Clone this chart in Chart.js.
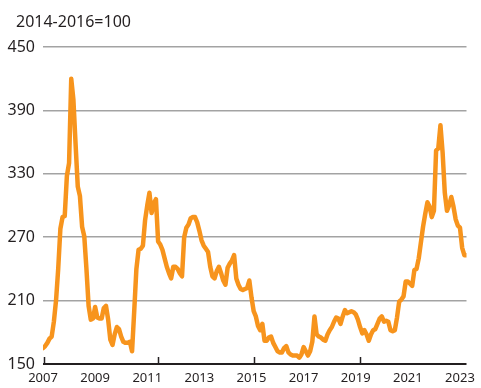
<!DOCTYPE html>
<html>
<head>
<meta charset="utf-8">
<script src="https://cdn.jsdelivr.net/npm/chart.js@4"></script>
<style>
  html, body { margin: 0; padding: 0; background: #fff; }
  #wrap { width: 481px; height: 388px; }
</style>
</head>
<body>
<div id="wrap"><canvas id="chart"></canvas></div>
<script>
// index 2014-2016=100, monthly from Jan 2007 to Apr 2023
const startYear = 2007;
const values = [
  165, 167, 170, 174, 176, 190, 210, 240, 278, 289, 290, 328, // 2007
  340, 420, 400, 358, 318, 309, 280, 271, 240, 205, 192, 193, // 2008
  204, 194, 193, 193, 203, 205, 192, 173, 168, 178, 185, 183, // 2009
  176, 171, 170, 170, 171, 162, 200, 240, 258, 259, 262, 286, // 2010
  300, 312, 293, 302, 306, 266, 263, 258, 250, 242, 236, 231, // 2011
  242, 242, 240, 236, 233, 270, 279, 282, 288, 289, 289, 284, // 2012
  276, 267, 262, 259, 256, 242, 233, 231, 238, 242, 236, 229, // 2013
  225, 241, 245, 248, 253, 231, 225, 221, 220, 221, 222, 229, // 2014
  213, 200, 195, 186, 182, 188, 172, 172, 175, 176, 170, 166, // 2015
  162, 161, 161, 165, 167, 161, 159, 158, 158, 158, 156, 159, // 2016
  166, 162, 158, 162, 171, 195, 178, 176, 175, 173, 172, 178, // 2017
  182, 185, 190, 194, 193, 188, 195, 201, 198, 199, 200, 199, // 2018
  197, 192, 185, 179, 182, 178, 172, 178, 182, 183, 188, 193, // 2019
  195, 190, 191, 190, 182, 181, 182, 194, 209, 211, 214, 228, // 2020
  228, 226, 224, 239, 240, 250, 265, 280, 292, 303, 299, 289, // 2021
  295, 352, 354, 376, 350, 312, 295, 300, 308, 299, 287, 281, // 2022
  279, 260, 253, 253                                          // 2023
];
const yearLabels = [2007, 2009, 2011, 2013, 2015, 2017, 2019, 2021, 2023];
const yTicks = [150, 210, 270, 330, 390, 450];
// small tick marks on the base line (months from Jan 2007)
const axisMarks = [0.5, 53, 97, 146];
const unitText = '2014-2016=100';

const ink = '#231f20';
const font = 'Noto Sans';

// unit note top left, plus the little marks on the base line
const extrasPlugin = {
    id: 'extras',
    afterDraw(chart) {
        const ctx = chart.ctx;
        const xs = chart.scales.x;
        const bottom = chart.chartArea.bottom;
        ctx.save();
        ctx.fillStyle = ink;
        ctx.font = '16px "' + font + '"';
        ctx.textBaseline = 'middle';
        ctx.textAlign = 'left';
        ctx.fillText(unitText, 16, 22);

        ctx.strokeStyle = ink;
        ctx.lineWidth = 1.5;
        axisMarks.forEach(v => {
            const px = Math.round(xs.getPixelForValue(v)) + 0.5;
            ctx.beginPath();
            ctx.moveTo(px, bottom);
            ctx.lineTo(px, bottom - 7);
            ctx.stroke();
        });
        ctx.restore();
    }
};

new Chart(document.getElementById('chart'), {
    type: 'line',
    data: {
        datasets: [{
            data: values.map((v, i) => ({ x: i, y: v })),
            borderColor: '#f7941d',
            borderWidth: 4.5,
            pointRadius: 0,
            tension: 0,
            borderJoinStyle: 'round',
            borderCapStyle: 'round'
        }]
    },
    options: {
        responsive: true,
        maintainAspectRatio: false,
        animation: false,
        devicePixelRatio: 1,
        layout: { padding: { left: 0, right: 9, top: 47, bottom: 0 } },
        plugins: {
            legend: { display: false },
            tooltip: { enabled: false },
            title: { display: false }
        },
        scales: {
            x: {
                type: 'linear',
                min: 0,
                max: values.length - 1,
                afterFit: s => { s.height = 24; },
                grid: { display: false, drawTicks: false },
                border: { display: false },
                afterBuildTicks: s => { s.ticks = yearLabels.map(y => ({ value: (y - startYear) * 12 })); },
                ticks: {
                    autoSkip: false,
                    maxRotation: 0,
                    padding: 6,
                    color: ink,
                    font: { family: font, size: 13 },
                    callback: v => String(startYear + v / 12)
                }
            },
            y: {
                min: 150,
                max: 450,
                afterFit: s => { s.width = 43; },
                afterBuildTicks: s => { s.ticks = yTicks.map(v => ({ value: v })); },
                grid: {
                    drawTicks: false,
                    color: c => c.tick.value === 150 ? ink : '#a3a3a3',
                    lineWidth: c => c.tick.value === 150 ? 2 : 1.5
                },
                border: { display: false },
                ticks: {
                    padding: 8,
                    color: ink,
                    font: { family: font, size: 16 }
                }
            }
        }
    },
    plugins: [extrasPlugin]
});
</script>
</body>
</html>
